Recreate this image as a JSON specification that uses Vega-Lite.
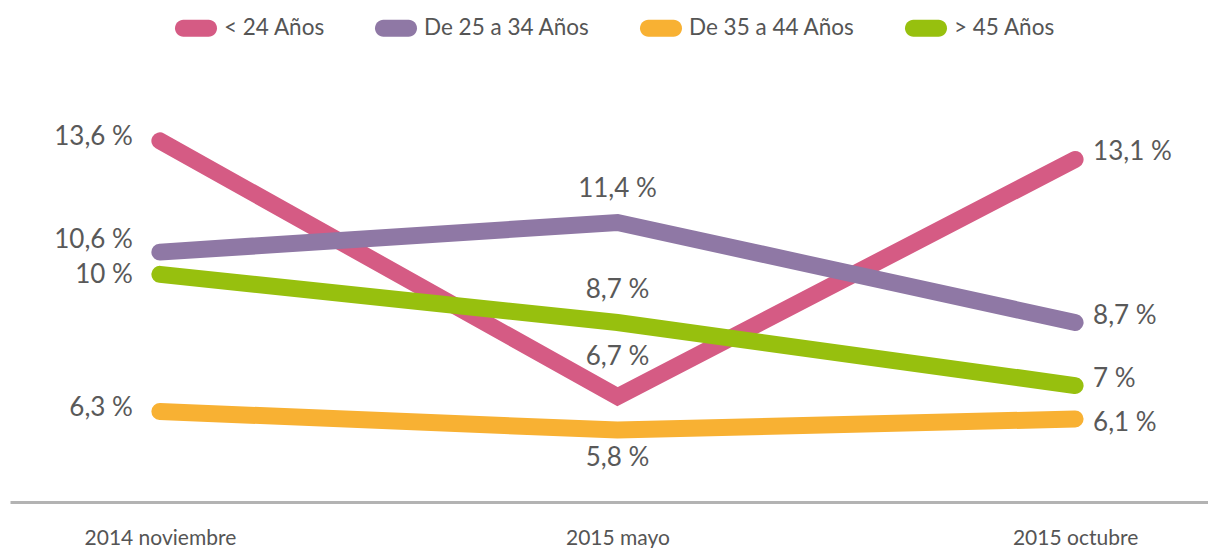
{
  "$schema": "https://vega.github.io/schema/vega-lite/v6.json",
  "width": 1198,
  "height": 502,
  "autosize": {"type": "none"},
  "padding": {"left": 10, "top": 0, "right": 0, "bottom": 46},
  "background": "#ffffff",
  "data": {
    "values": [
      {"fecha": "2014 noviembre", "serie": "< 24 Años", "valor": 13.6, "label": "13,6 %"},
      {"fecha": "2015 mayo", "serie": "< 24 Años", "valor": 6.7, "label": "6,7 %"},
      {"fecha": "2015 octubre", "serie": "< 24 Años", "valor": 13.1, "label": "13,1 %"},
      {"fecha": "2014 noviembre", "serie": "De 25 a 34 Años", "valor": 10.6, "label": "10,6 %"},
      {"fecha": "2015 mayo", "serie": "De 25 a 34 Años", "valor": 11.4, "label": "11,4 %"},
      {"fecha": "2015 octubre", "serie": "De 25 a 34 Años", "valor": 8.7, "label": "8,7 %"},
      {"fecha": "2014 noviembre", "serie": "> 45 Años", "valor": 10, "label": "10 %"},
      {"fecha": "2015 mayo", "serie": "> 45 Años", "valor": 8.7, "label": "8,7 %"},
      {"fecha": "2015 octubre", "serie": "> 45 Años", "valor": 7, "label": "7 %"},
      {"fecha": "2014 noviembre", "serie": "De 35 a 44 Años", "valor": 6.3, "label": "6,3 %"},
      {"fecha": "2015 mayo", "serie": "De 35 a 44 Años", "valor": 5.8, "label": "5,8 %"},
      {"fecha": "2015 octubre", "serie": "De 35 a 44 Años", "valor": 6.1, "label": "6,1 %"}
    ]
  },
  "encoding": {
    "x": {
      "field": "fecha", "type": "ordinal",
      "sort": ["2014 noviembre", "2015 mayo", "2015 octubre"],
      "scale": {"type": "point", "padding": 0.309, "align": 0.53},
      "axis": {"title": null, "labelAngle": 0}
    },
    "y": {
      "field": "valor", "type": "quantitative",
      "scale": {"domain": [3.86, 17.4], "nice": false, "zero": false},
      "axis": null
    }
  },
  "layer": [
    {
      "mark": {"type": "line", "strokeWidth": 17, "strokeCap": "round", "strokeJoin": "miter"},
      "encoding": {
        "color": {
          "field": "serie", "type": "nominal",
          "scale": {
            "domain": ["< 24 Años", "De 25 a 34 Años", "De 35 a 44 Años", "> 45 Años"],
            "range": ["#D55B84", "#8F78A5", "#F8B133", "#97C00E"]
          },
          "legend": {
            "title": null,
            "orient": "none",
            "direction": "horizontal",
            "columns": 4,
            "legendX": 165,
            "legendY": 7,
            "padding": 0,
            "symbolType": "M-0.6,-0.4L0.6,-0.4A0.4,0.4 0 0 1 0.6,0.4L-0.6,0.4A0.4,0.4 0 0 1 -0.6,-0.4Z",
            "symbolSize": 1764,
            "symbolStrokeWidth": 0,
            "symbolOpacity": 1,
            "labelFont": "Lato",
            "labelFontSize": 22.5,
            "labelColor": "#555555",
            "labelOffset": 7,
            "columnPadding": 50,
            "labelLimit": 300,
            "encode": {
              "symbols": {"update": {"fill": {"scale": "color", "field": "value"}, "opacity": {"value": 1}}}
            }
          }
        }
      }
    },
    {
      "transform": [{"filter": "datum.fecha == '2014 noviembre' && datum.serie != 'De 25 a 34 Años' && datum.serie != '> 45 Años'"}],
      "mark": {"type": "text", "align": "right", "baseline": "middle", "dx": -27, "dy": -4, "font": "Lato", "fontSize": 26, "color": "#595959"},
      "encoding": {"text": {"field": "label"}}
    },
    {
      "transform": [{"filter": "datum.fecha == '2014 noviembre' && datum.serie == 'De 25 a 34 Años'"}],
      "mark": {"type": "text", "align": "right", "baseline": "middle", "dx": -27, "dy": -12, "font": "Lato", "fontSize": 26, "color": "#595959"},
      "encoding": {"text": {"field": "label"}}
    },
    {
      "transform": [{"filter": "datum.fecha == '2014 noviembre' && datum.serie == '> 45 Años'"}],
      "mark": {"type": "text", "align": "right", "baseline": "middle", "dx": -27, "dy": 1, "font": "Lato", "fontSize": 26, "color": "#595959"},
      "encoding": {"text": {"field": "label"}}
    },
    {
      "transform": [{"filter": "datum.fecha == '2015 mayo' && (datum.serie == 'De 25 a 34 Años' || datum.serie == '> 45 Años')"}],
      "mark": {"type": "text", "align": "center", "baseline": "middle", "dy": -33, "font": "Lato", "fontSize": 26, "color": "#595959"},
      "encoding": {"text": {"field": "label"}}
    },
    {
      "transform": [{"filter": "datum.fecha == '2015 mayo' && datum.serie == '< 24 Años'"}],
      "mark": {"type": "text", "align": "center", "baseline": "middle", "dy": -40, "font": "Lato", "fontSize": 26, "color": "#595959"},
      "encoding": {"text": {"field": "label"}}
    },
    {
      "transform": [{"filter": "datum.fecha == '2015 mayo' && datum.serie == 'De 35 a 44 Años'"}],
      "mark": {"type": "text", "align": "center", "baseline": "middle", "dy": 28, "font": "Lato", "fontSize": 26, "color": "#595959"},
      "encoding": {"text": {"field": "label"}}
    },
    {
      "transform": [{"filter": "datum.fecha == '2015 octubre' && datum.serie != 'De 35 a 44 Años'"}],
      "mark": {"type": "text", "align": "left", "baseline": "middle", "dx": 18, "dy": -7, "font": "Lato", "fontSize": 26, "color": "#595959"},
      "encoding": {"text": {"field": "label"}}
    },
    {
      "transform": [{"filter": "datum.fecha == '2015 octubre' && datum.serie == 'De 35 a 44 Años'"}],
      "mark": {"type": "text", "align": "left", "baseline": "middle", "dx": 18, "dy": 4, "font": "Lato", "fontSize": 26, "color": "#595959"},
      "encoding": {"text": {"field": "label"}}
    }
  ],
  "config": {
    "view": {"stroke": null},
    "axis": {
      "grid": false,
      "ticks": false,
      "domainColor": "#b3b3b3",
      "domainWidth": 3,
      "labelFont": "Lato",
      "labelFontSize": 21,
      "labelColor": "#555555",
      "labelPadding": 25
    }
  }
}
